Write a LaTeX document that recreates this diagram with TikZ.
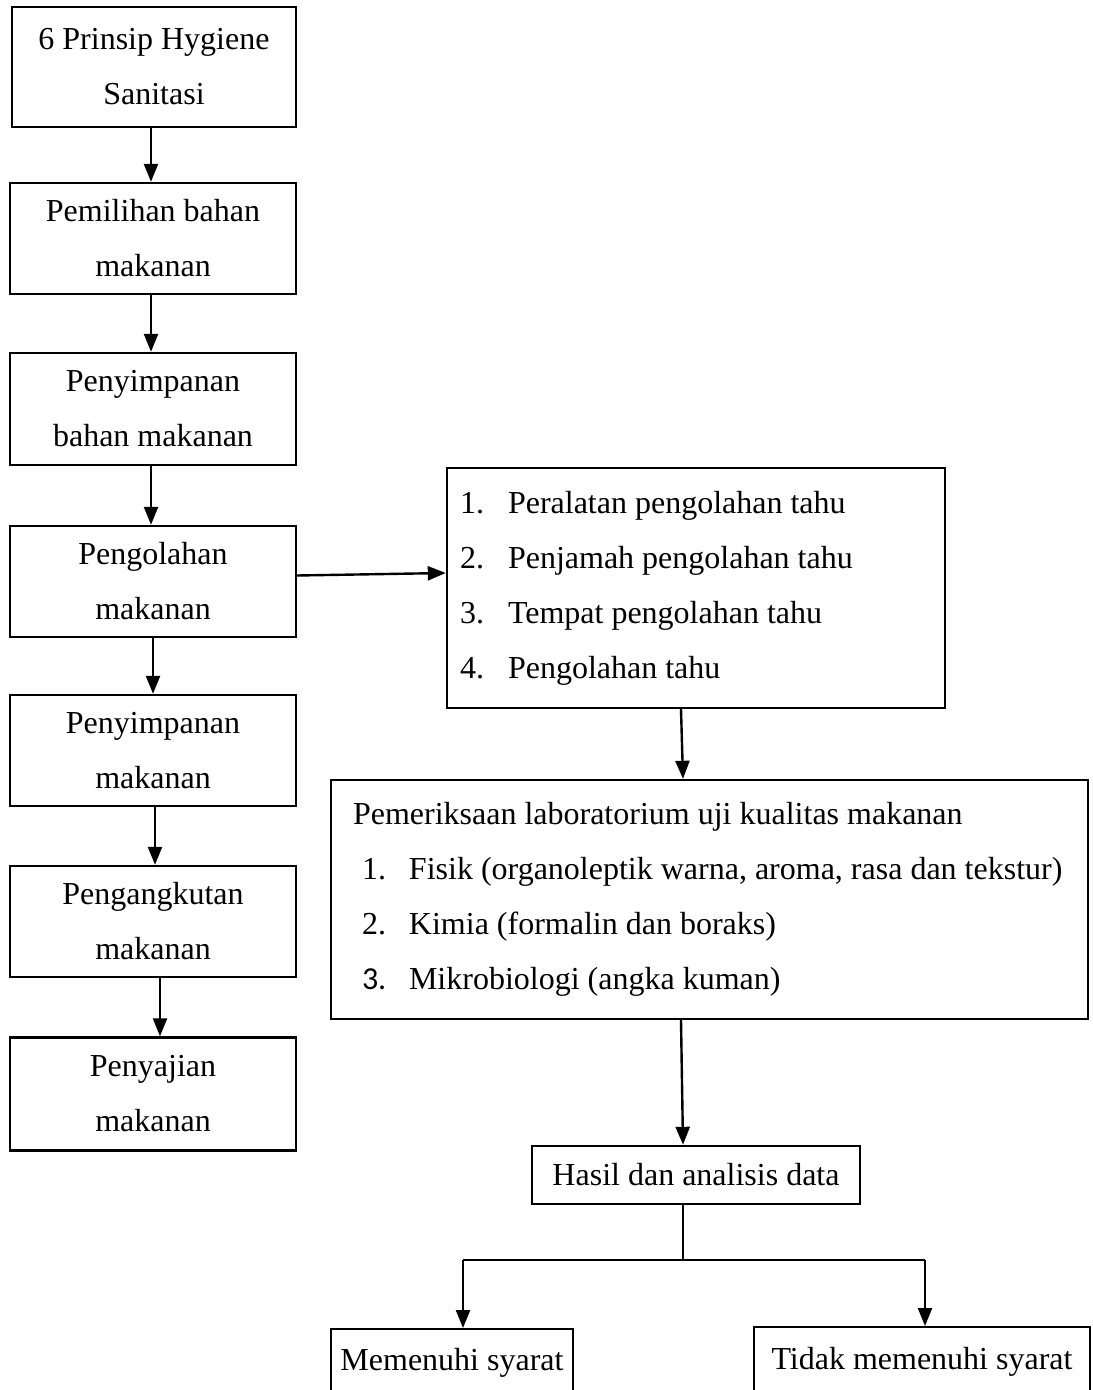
\documentclass[tikz,border=0pt]{standalone}
\usepackage{fontspec}
\setmainfont{Liberation Serif}
\newfontfamily\numfont{Carlito}
\usetikzlibrary{arrows.meta,calc}
\begin{document}
\begin{tikzpicture}[x=0.5pt,y=-0.5pt,
  box/.style={draw,line width=1.2pt,align=center,inner sep=0pt,
    font=\fontsize{16}{27.5}\selectfont},
  lbox/.style={draw,line width=1.2pt,align=flush left,inner ysep=0pt,
    font=\fontsize{16}{27.5}\selectfont},
  arr/.style={line width=1.2pt,-{Triangle[length=9pt,width=7pt]}},
  ln/.style={line width=1.2pt}]
\clip (0,0) rectangle (1092,1390);
\fill[white] (0,0) rectangle (1092,1390);
% left column
\node[box,minimum width=142pt,minimum height=60pt] (b1) at (154,67) {6 Prinsip Hygiene\\Sanitasi};
\node[box,minimum width=143pt,minimum height=55.5pt] (b2) at (153,238.5) {Pemilihan bahan\\makanan};
\node[box,minimum width=143pt,minimum height=56pt] (b3) at (153,409) {Penyimpanan\\bahan makanan};
\node[box,minimum width=143pt,minimum height=55.5pt] (b4) at (153,581.5) {Pengolahan\\makanan};
\node[box,minimum width=143pt,minimum height=55.5pt] (b5) at (153,750.5) {Penyimpanan\\makanan};
\node[box,minimum width=143pt,minimum height=55.5pt] (b6) at (153,921.5) {Pengangkutan\\makanan};
\node[box,minimum width=143pt,minimum height=56.5pt] (b7) at (153,1094) {Penyajian\\makanan};
\draw[arr] ([xshift=-1.5pt]b1.south) -- ([xshift=-1pt]b2.north);
\draw[arr] ([xshift=-1pt]b2.south) -- ([xshift=-1pt]b3.north);
\draw[arr] ([xshift=-1pt]b3.south) -- ([xshift=-1pt]b4.north);
\draw[arr] (b4.south) -- (b5.north);
\draw[arr] ([xshift=1pt]b5.south) -- ([xshift=1pt]b6.north);
\draw[arr] ([xshift=3.5pt]b6.south) -- ([xshift=3.5pt]b7.north);
% list box
\node[lbox,minimum width=249pt,minimum height=120pt,text width=236pt,inner xsep=6.5pt] (list) at (696,588)
 {\makebox[24pt][l]{1.}Peralatan pengolahan tahu\\
  \makebox[24pt][l]{2.}Penjamah pengolahan tahu\\
  \makebox[24pt][l]{3.}Tempat pengolahan tahu\\
  \makebox[24pt][l]{4.}Pengolahan tahu};
\draw[arr] ([yshift=3pt]b4.east) -- ([yshift=7.5pt]list.west);
% lab box
\node[lbox,minimum width=378.5pt,minimum height=119.5pt,text width=356.5pt,inner xsep=11pt] (lab) at (709.5,899.5)
 {\mbox{Pemeriksaan laboratorium uji kualitas makanan}\\
  \mbox{\hspace*{4.5pt}\makebox[23.5pt][l]{1.}Fisik (organoleptik warna, aroma, rasa dan tekstur)}\\
  \mbox{\hspace*{4.5pt}\makebox[23.5pt][l]{2.}Kimia (formalin dan boraks)}\\
  \mbox{\hspace*{4.5pt}\makebox[23.5pt][l]{\numfont 3.}Mikrobiologi (angka kuman)}};
\draw[arr] ([xshift=-7.5pt]list.south) -- ([xshift=-13.25pt]lab.north);
% hasil
\node[box,minimum width=164pt,minimum height=29pt] (hasil) at (696,1175) {Hasil dan analisis data};
\draw[arr] ([xshift=-14.25pt]lab.south) -- ([xshift=-6.5pt]hasil.north);
% outcomes
\node[box,minimum width=121pt,minimum height=34pt,anchor=north] (yes) at (452,1328) {Memenuhi syarat};
\node[box,minimum width=168pt,minimum height=35pt,anchor=north] (no) at (922,1326) {Tidak memenuhi syarat};
\coordinate (split) at (683,1260);
\coordinate (lt) at (463,1260);
\coordinate (rt) at (925,1260);
\draw[ln] ([xshift=-6.5pt]hasil.south) -- (split);
\draw[ln] (lt) -- (rt);
\draw[arr] (lt) -- (lt |- yes.north);
\draw[arr] (rt) -- (rt |- no.north);
\end{tikzpicture}
\end{document}
